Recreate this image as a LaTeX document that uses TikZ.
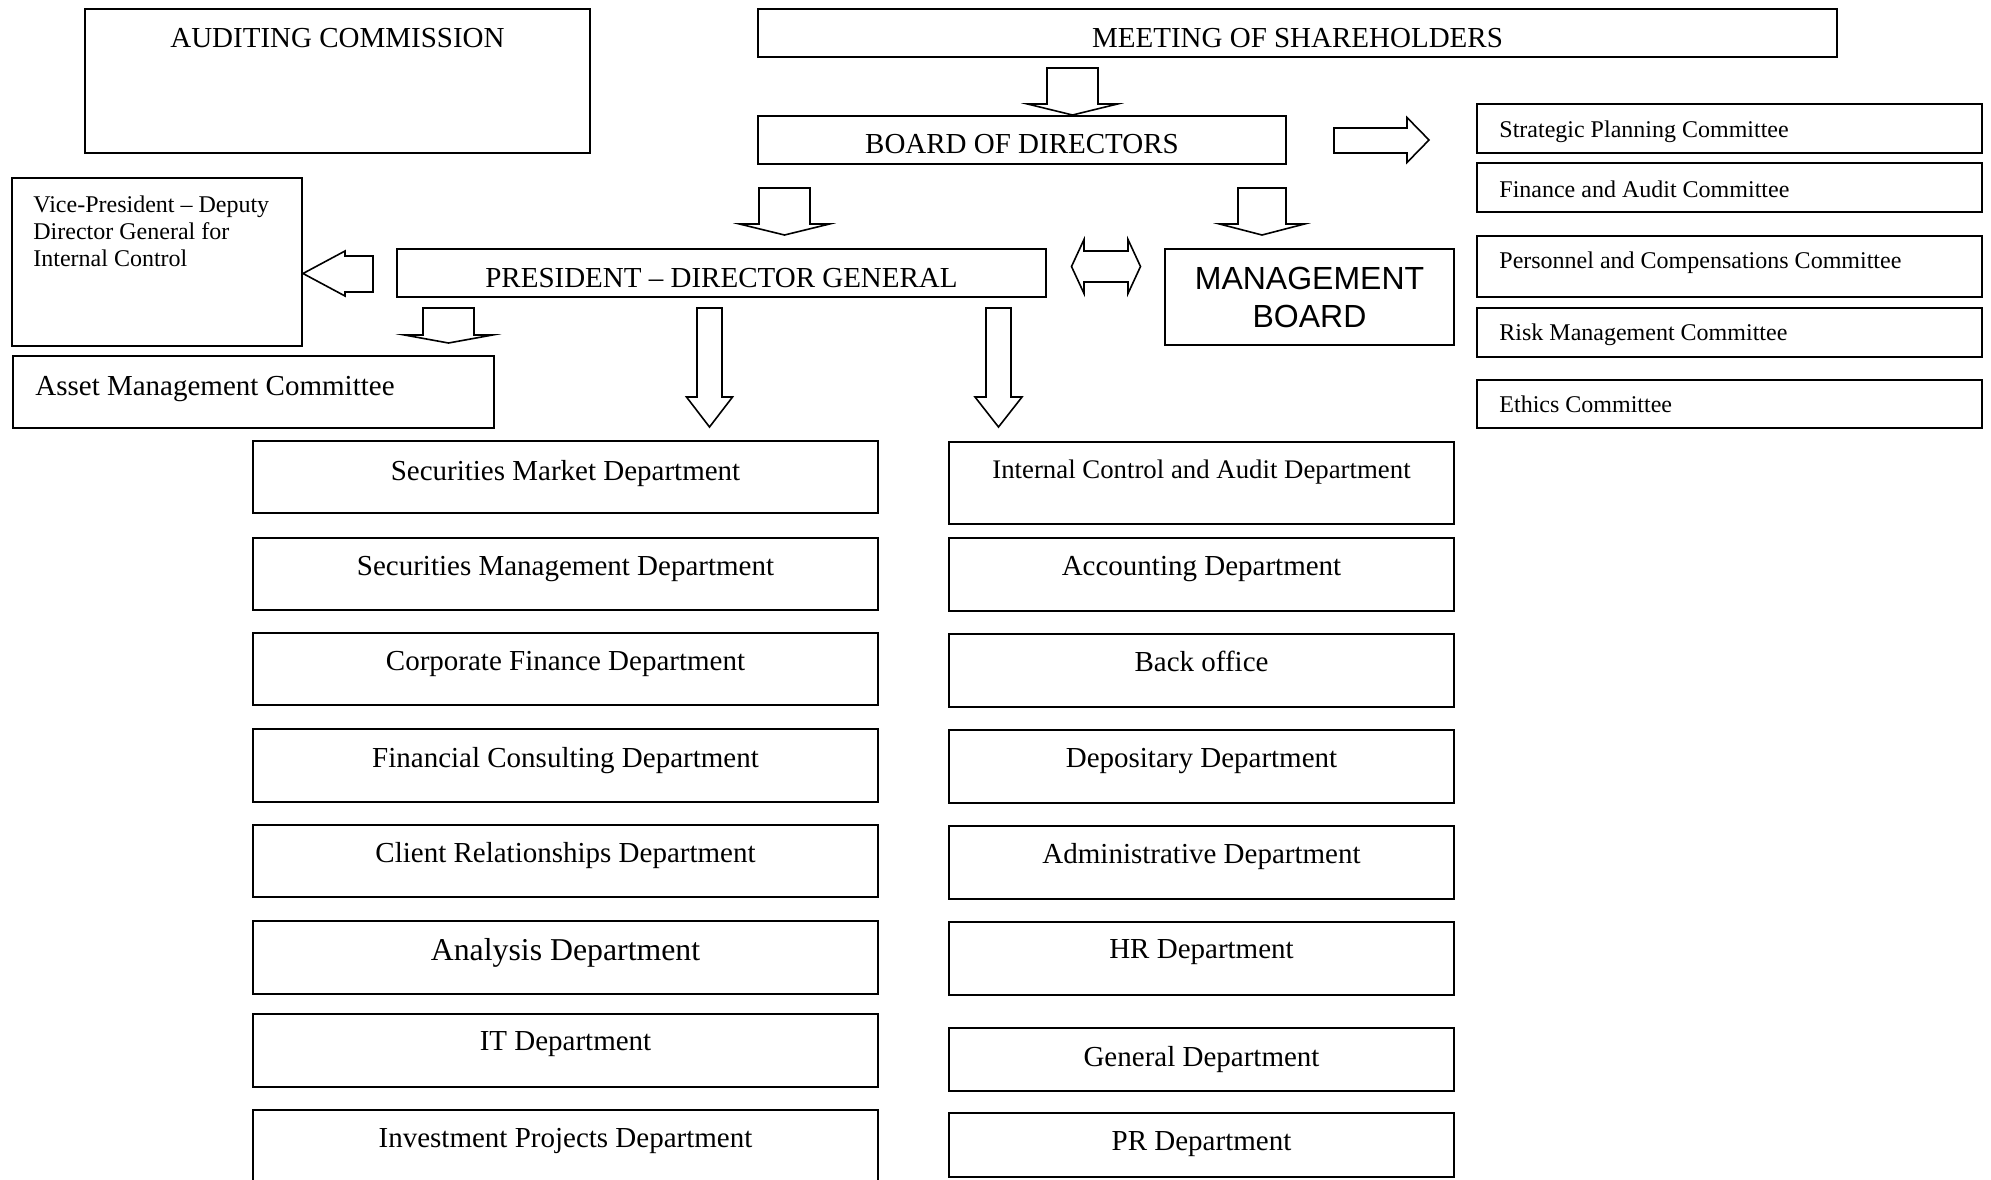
\documentclass[tikz,border=0pt]{standalone}
\usepackage{fontspec}
\setmainfont{Liberation Serif}
\newfontfamily\arialfont{Liberation Sans}
\usetikzlibrary{calc}
\tikzset{
  box/.style={draw, line width=1.2pt, inner sep=0pt},
  barrow/.style={draw, fill=white, line width=0.8pt, line join=miter, miter limit=25},
  lbl/.style={inner sep=0pt},
}
\newcommand{\fmain}{\fontsize{14.5pt}{17pt}\selectfont}
\newcommand{\fcomm}{\fontsize{12pt}{13.5pt}\selectfont}
\newcommand{\fica}{\fontsize{13.4pt}{16pt}\selectfont}
\newcommand{\fanal}{\fontsize{15.9pt}{18pt}\selectfont}
% centred box: name, x1, y1, x2, y2, baseline y, text
\newcommand{\cbox}[7]{%
  \node[box, minimum width={(#4-#2)*0.5pt}, minimum height={(#5-#3)*0.5pt}] (#1) at ({(#2+#4)/2},{(#3+#5)/2}) {};
  \node[lbl, anchor=base] (#1-t) at ({(#2+#4)/2},#6) {#7};}
% box with left text: name, x1, y1, x2, y2, baseline y, text x, text
\newcommand{\lbox}[8]{%
  \node[box, minimum width={(#4-#2)*0.5pt}, minimum height={(#5-#3)*0.5pt}] (#1) at ({(#2+#4)/2},{(#3+#5)/2}) {};
  \node[lbl, anchor=base west] (#1-t) at (#7,#6) {#8};}
% down block arrow: centre x, shaft half width, top y, head y, head half width, tip y
\newcommand{\darrow}[6]{%
  \draw[barrow] ({#1-#2},#3) -- ({#1+#2},#3) -- ({#1+#2},#4) -- ({#1+#5},#4) -- (#1,#6)
    -- ({#1-#5},#4) -- ({#1-#2},#4) -- cycle;}
\begin{document}
\begin{tikzpicture}[x=0.5pt,y=-0.5pt]
\useasboundingbox (0,0) rectangle (1991,1179);
\clip (0,0) rectangle (1991,1179);

% top level
\cbox{aud}{85}{9}{590}{153}{47}{\fmain AUDITING COMMISSION}
\cbox{meet}{758}{9}{1837}{57}{47}{\fmain MEETING OF SHAREHOLDERS}
\cbox{board}{758}{116}{1286}{164}{153}{\fmain BOARD OF DIRECTORS}
\cbox{pres}{397}{249}{1046}{297}{287}{\fmain PRESIDENT – DIRECTOR GENERAL}

\node[box, minimum width={(1454-1165)*0.5pt}, minimum height={(345-249)*0.5pt}] (mb) at ({(1165+1454)/2},{(249+345)/2}) {};
\node[lbl, align=center, font=\arialfont\fontsize{16pt}{19pt}\selectfont] (mb-t) at (1309.5,297) {MANAGEMENT\\BOARD};

\node[box, minimum width={(302-12)*0.5pt}, minimum height={(346-178)*0.5pt}] (vp) at ({(12+302)/2},{(178+346)/2}) {};
\node[lbl, anchor=north west, align=left, font=\fcomm] (vp-t) at (33,195) {Vice-President – Deputy\\Director General for\\Internal Control};

\lbox{asset}{13}{356}{494}{428}{395}{35}{\fmain Asset Management Committee}

% committees
\lbox{c1}{1477}{104}{1982}{153}{137}{1499}{\fcomm Strategic Planning Committee}
\lbox{c2}{1477}{163}{1982}{212}{197}{1499}{\fcomm Finance and Audit Committee}
\lbox{c3}{1477}{236}{1982}{297}{268}{1499}{\fcomm Personnel and Compensations Committee}
\lbox{c4}{1477}{308}{1982}{357}{340}{1499}{\fcomm Risk Management Committee}
\lbox{c5}{1477}{380}{1982}{428}{412}{1499}{\fcomm Ethics Committee}

% left column
\cbox{l1}{253}{441}{878}{513}{480}{\fmain Securities Market Department}
\cbox{l2}{253}{538}{878}{610}{575}{\fmain Securities Management Department}
\cbox{l3}{253}{633}{878}{705}{670}{\fmain Corporate Finance Department}
\cbox{l4}{253}{729}{878}{802}{767}{\fmain Financial Consulting Department}
\cbox{l5}{253}{825}{878}{897}{862}{\fmain Client Relationships Department}
\cbox{l6}{253}{921}{878}{994}{960}{\fanal Analysis Department}
\cbox{l7}{253}{1014}{878}{1087}{1050}{\fmain IT Department}
\cbox{l8}{253}{1110}{878}{1200}{1147}{\fmain Investment Projects Department}

% right column
\cbox{r1}{949}{442}{1454}{524}{478}{\fica Internal Control and Audit Department}
\cbox{r2}{949}{538}{1454}{611}{575}{\fmain Accounting Department}
\cbox{r3}{949}{634}{1454}{707}{671}{\fmain Back office}
\cbox{r4}{949}{730}{1454}{803}{767}{\fmain Depositary Department}
\cbox{r5}{949}{826}{1454}{899}{863}{\fmain Administrative Department}
\cbox{r6}{949}{922}{1454}{995}{958}{\fmain HR Department}
\cbox{r7}{949}{1028}{1454}{1091}{1066}{\fmain General Department}
\cbox{r8}{949}{1113}{1454}{1177}{1150}{\fmain PR Department}

% block arrows
\darrow{1072.5}{25.5}{68}{104}{45}{115}     % meeting -> board
\darrow{784.5}{25.5}{188}{224}{45}{235}     % board -> president
\darrow{1262}{24}{188}{224}{42.5}{235}      % board -> management board
\darrow{448.5}{25.5}{308}{335}{44}{343}     % president -> asset committee
\darrow{709.5}{12.5}{308}{397}{23}{427}     % president -> left column
\darrow{998.5}{12.5}{308}{397}{23.5}{427}   % president -> right column

% board -> committees
\draw[barrow] (1334,128) -- (1407,128) -- (1407,117.5) -- (1429,140) -- (1407,162.5)
  -- (1407,153) -- (1334,153) -- cycle;
% president -> vice-president
\draw[barrow] (373,256) -- (345,256) -- (345,251) -- (303,273.5) -- (345,296)
  -- (345,292) -- (373,292) -- cycle;
% president <-> management board
\draw[barrow] (1071.5,266.5) -- (1084,239.5) -- (1084,251) -- (1128,251) -- (1128,239.5)
  -- (1140.5,266.5) -- (1128,293.5) -- (1128,282) -- (1084,282) -- (1084,293.5) -- cycle;
\end{tikzpicture}
\end{document}
